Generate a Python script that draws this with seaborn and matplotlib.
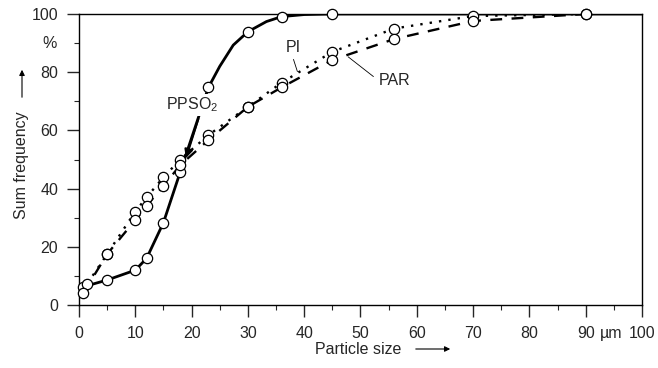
import pandas as pd
import seaborn as sns
import matplotlib.pyplot as plt
import numpy as np

# measured points (particle size in um, sum frequency in %)
size_ppso2 = [0.8, 5, 10, 12, 15, 18, 23, 30, 36, 45]
freq_ppso2 = [6.3, 8.6, 12.0, 16.0, 28.3, 45.8, 74.8, 93.9, 99.1, 100]
size_pi = [1.5, 5, 10, 12, 15, 18, 23, 30, 36, 45, 56, 70, 90]
freq_pi = [7.4, 17.5, 32.1, 37.0, 43.9, 50.0, 58.4, 68.1, 76.4, 87.0, 95.0, 99.3, 100]
size_par = [0.8, 5, 10, 12, 15, 18, 23, 30, 36, 45, 56, 70, 90]
freq_par = [4.2, 17.5, 29.2, 34.1, 40.9, 48.1, 56.7, 68.1, 74.8, 84.2, 91.4, 97.6, 100]

# extra nodes (bend and run along 100 %)
curve_size_ppso2 = [25, 27.4, 33.3, 40, 100]
curve_freq_ppso2 = [82.0, 89.3, 97.4, 99.8, 100]

sns.set_style("ticks")
plt.rcParams["font.family"] = ["Liberation Sans", "DejaVu Sans"]
plt.rcParams["mathtext.fontset"] = "custom"
plt.rcParams["mathtext.rm"] = "Liberation Sans"
plt.rcParams["font.size"] = 11.5

points = pd.concat([
    pd.DataFrame({"size": size_ppso2, "freq": freq_ppso2, "sample": "PPSO2"}),
    pd.DataFrame({"size": size_pi, "freq": freq_pi, "sample": "PI"}),
    pd.DataFrame({"size": size_par, "freq": freq_par, "sample": "PAR"}),
], ignore_index=True)

curve = pd.concat([
    points,
    pd.DataFrame({"size": curve_size_ppso2, "freq": curve_freq_ppso2, "sample": "PPSO2"}),
], ignore_index=True).sort_values(["sample", "size"])

fig = plt.figure(figsize=(6.58, 3.68), dpi=100)
ax = fig.add_axes([0.120, 0.171, 0.8557, 0.791])

sns.lineplot(data=curve, x="size", y="freq", hue="sample", style="sample", size="sample",
             palette={"PPSO2": "black", "PI": "black", "PAR": "black"},
             dashes={"PPSO2": "", "PI": (1, 3), "PAR": (5, 4)},
             sizes={"PPSO2": 2.0, "PI": 1.7, "PAR": 1.7},
             estimator=None, sort=True, legend=False, ax=ax)

sns.scatterplot(data=points, x="size", y="freq", marker="o", s=55, color="white",
                edgecolor="black", linewidth=0.9, zorder=3, clip_on=False, legend=False, ax=ax)

ax.set_xlim(0, 100)
ax.set_ylim(0, 100)
ax.set_xticks(np.arange(0, 101, 10))
ax.set_xticks(np.arange(5, 100, 10), minor=True)
ax.set_yticks(np.arange(0, 101, 20))
ax.set_yticks(np.arange(10, 100, 20), minor=True)
ax.tick_params(which="major", length=8.5, width=1, direction="out", pad=6.5, labelsize=11.5)
ax.tick_params(which="minor", length=3.5, width=0.8, direction="out")
for s in ax.spines.values():
    s.set_linewidth(1.0)
    s.set_color("black")
ax.set_xlabel("")
ax.set_ylabel("")

# unit signs
ax.text(94.5, -0.099, "µm", transform=ax.get_xaxis_transform(), ha="center", va="center")
ax.text(-0.039, 90, "%", transform=ax.get_yaxis_transform(), ha="right", va="center")

# curve labels
ax.text(15.4, 68.7, r"PPSO$_2$", ha="left", va="center", zorder=4,
        bbox=dict(facecolor="white", edgecolor="none", pad=1))
ax.annotate("", xy=(19.0, 50.5), xytext=(21.2, 64.0),
            arrowprops=dict(arrowstyle="-|>", color="black", lw=1.6, mutation_scale=12,
                            shrinkA=0, shrinkB=0), zorder=4)
ax.text(38.1, 88.5, "PI", ha="center", va="center")
ax.plot([38.1, 38.8], [84.4, 80.2], color="black", lw=0.6)
ax.text(53.3, 77.3, "PAR", ha="left", va="center")
ax.plot([47.8, 52.3], [85.3, 78.5], color="black", lw=0.6)

# axis titles with arrows
fig.text(315 / 658, 1 - 349 / 368, "Particle size", ha="left", va="center")
ax.annotate("", xy=(453 / 658, 1 - 349 / 368), xytext=(413 / 658, 1 - 349 / 368),
            xycoords="figure fraction", textcoords="figure fraction",
            arrowprops=dict(arrowstyle="-|>", color="black", lw=0.8, mutation_scale=8))
fig.text(22 / 658, 1 - 165 / 368, "Sum frequency", ha="center", va="center", rotation=90)
ax.annotate("", xy=(22 / 658, 1 - 67 / 368), xytext=(22 / 658, 1 - 100 / 368),
            xycoords="figure fraction", textcoords="figure fraction",
            arrowprops=dict(arrowstyle="-|>", color="black", lw=0.8, mutation_scale=8))

fig.savefig("out.png", dpi=100)
